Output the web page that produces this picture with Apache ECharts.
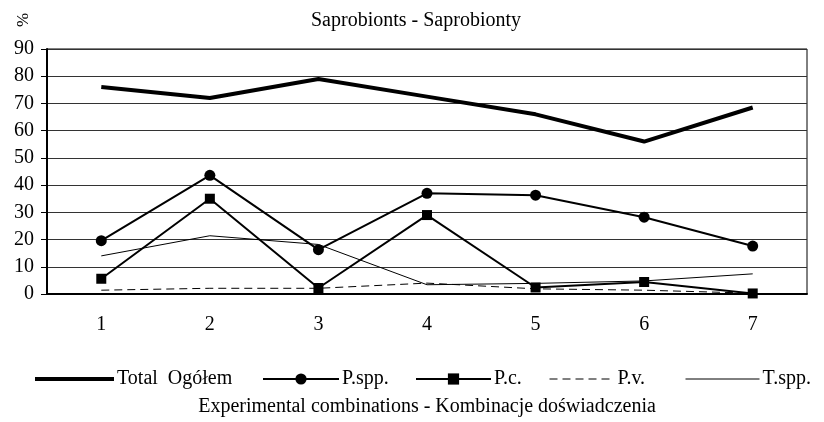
<!DOCTYPE html>
<html>
<head>
<meta charset="utf-8">
<script src="https://cdn.jsdelivr.net/npm/echarts@6/dist/echarts.min.js"></script>
<style>
  html, body { margin: 0; padding: 0; background: #fff; }
  #chart { width: 824px; height: 422px; }
</style>
</head>
<body>
<div id="chart"></div>
<script>
// values
const categories = ['1', '2', '3', '4', '5', '6', '7'];
const total = [76, 72, 79, 72.5, 66, 56, 68.5];
const pSpp = [19.6, 43.6, 16.3, 37, 36.3, 28.2, 17.6];
const pC = [5.6, 35, 2.2, 29, 2.4, 4.4, 0.2];
const pV = [1.4, 2.1, 2.1, 4, 1.9, 1.4, 0.3];
const tSpp = [14, 21.4, 18.2, 3.4, 3.9, 4.8, 7.4];
const seriesNames = ['Total  Ogółem', 'P.spp.', 'P.c.', 'P.v.', 'T.spp.'];

const font = 'Liberation Serif';

// line look per series: width, dash, symbol
const lineWidths = [4, 2, 2, 1, 1];
const lineTypes = ['solid', 'solid', 'solid', [8, 5], 'solid'];
const symbols = ['none', 'circle', 'rect', 'none', 'none'];
const symbolSizes = [0, 11, 10, 0, 0];

// one legend per entry so each can sit where the reference has it
const legendLeft = [33, 262, 415, 549, 685];
const legendWidth = [79, 76, 75, 65, 74];
const legends = seriesNames.map((name, i) => ({
  data: [{
    name: name,
    lineStyle: { width: lineWidths[i], type: lineTypes[i], color: '#000' },
    // the line series without markers should show a bare line
    itemStyle: symbols[i] === 'none' ? { opacity: 0 } : { color: '#000' },
  }],
  left: legendLeft[i],
  top: 369,
  itemWidth: legendWidth[i],
  itemHeight: 14,
  itemGap: 0,
  padding: 0,
  selectedMode: false,
  textStyle: { fontFamily: font, fontSize: 20, color: '#000', padding: [0, 0, 0, -2] },
}));

const seriesData = [total, pSpp, pC, pV, tSpp];

const series = seriesNames.map((name, i) => ({
  name: name,
  type: 'line',
  data: seriesData[i],
  symbol: symbols[i],
  symbolSize: symbolSizes[i],
  lineStyle: { color: '#000', width: lineWidths[i], type: lineTypes[i] },
  itemStyle: { color: '#000' },
  clip: false,
  z: i === 0 ? 5 : 2,
}));

const chart = echarts.init(document.getElementById('chart'), null, { renderer: 'canvas' });

chart.setOption({
  animation: false,
  backgroundColor: '#fff',
  title: {
    text: 'Saprobionts - Saprobionty',
    left: 311,
    top: 11,
    padding: 0,
    textStyle: { fontFamily: font, fontSize: 20, fontWeight: 'normal', color: '#000' },
  },
  graphic: [
    {
      type: 'text',
      x: 24,
      y: 20,
      rotation: Math.PI / 2,
      style: {
        text: '%',
        font: '17px "Liberation Serif"',
        fill: '#000',
        textAlign: 'center',
        textVerticalAlign: 'middle',
      },
    },
  ],
  legend: legends,
  grid: {
    left: 47,
    right: 17,
    top: 49,
    bottom: 119,
    show: true,
    borderColor: '#000',
    borderWidth: 1,
  },
  xAxis: {
    type: 'category',
    data: categories,
    boundaryGap: true,
    name: 'Experimental combinations - Kombinacje doświadczenia',
    nameLocation: 'middle',
    nameGap: 103,
    nameTextStyle: { fontFamily: font, fontSize: 20, color: '#000' },
    axisLine: { lineStyle: { color: '#000', width: 2 } },
    axisTick: { length: 6, lineStyle: { color: '#000', width: 1 } },
    axisLabel: { fontFamily: font, fontSize: 20, color: '#000', margin: 21 },
  },
  yAxis: {
    type: 'value',
    min: 0,
    max: 90,
    interval: 10,
    axisLine: { show: true, lineStyle: { color: '#000', width: 2 } },
    axisTick: { show: true, length: 6, lineStyle: { color: '#000', width: 1 } },
    axisLabel: { fontFamily: font, fontSize: 20, color: '#000', margin: 13 },
    splitLine: { lineStyle: { color: '#333', width: 1 } },
  },
  series: series,
});
</script>
</body>
</html>
